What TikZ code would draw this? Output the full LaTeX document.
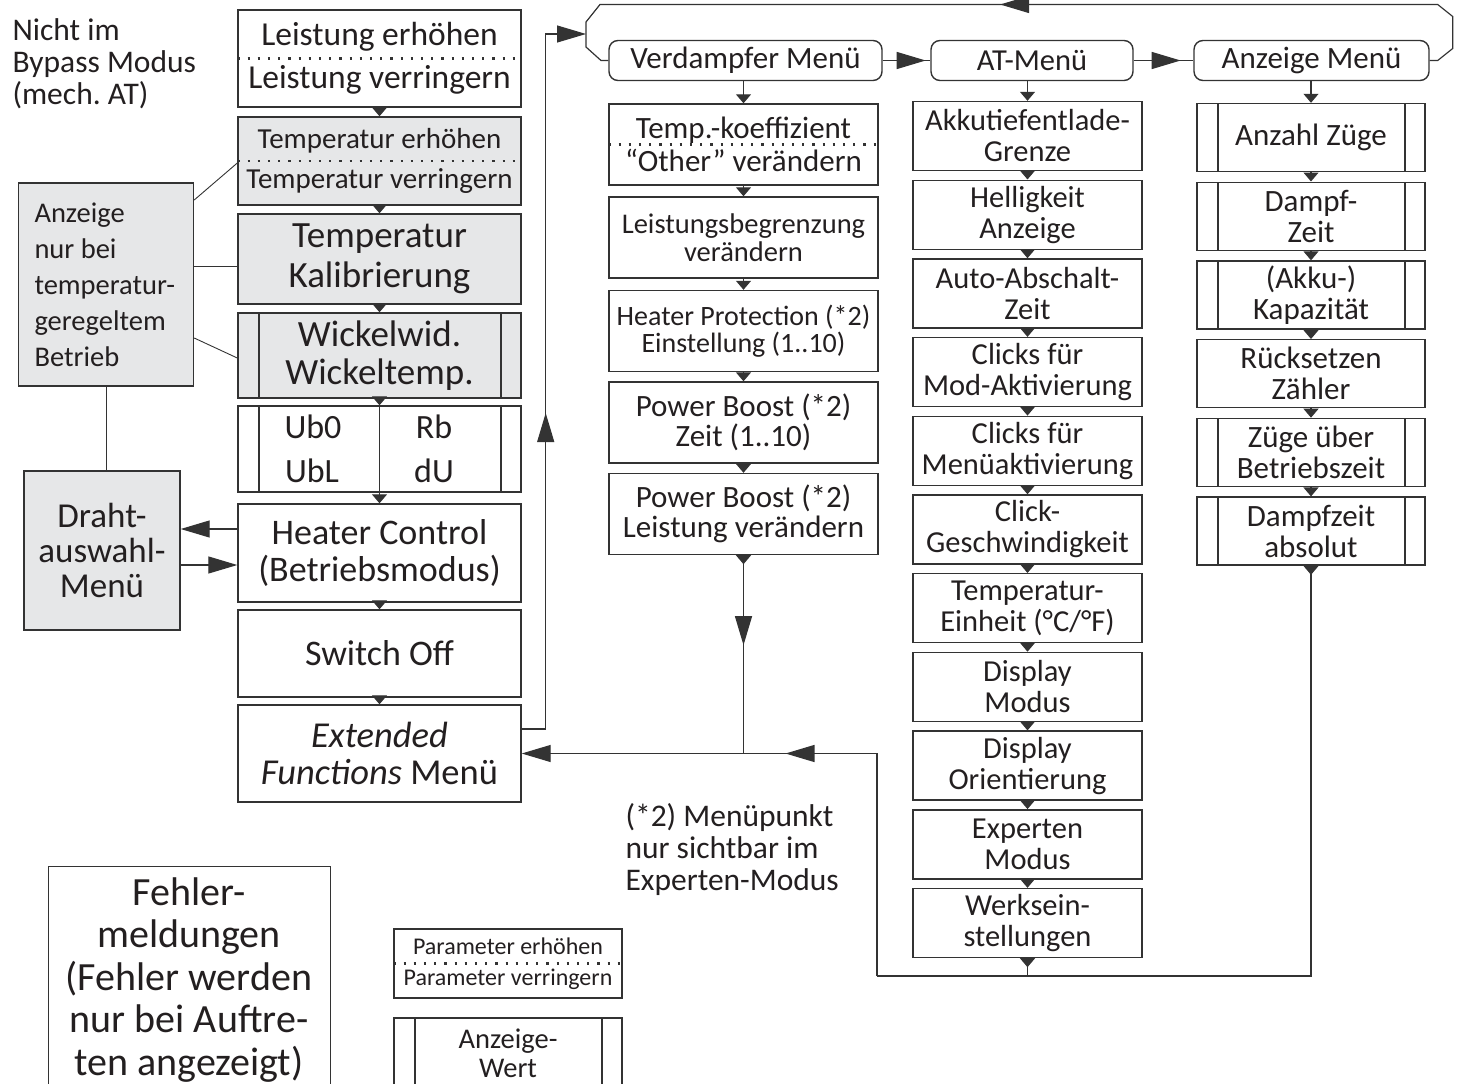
\documentclass[tikz,border=0pt]{standalone}
\usepackage{fontspec}
\setmainfont{Carlito}
\usetikzlibrary{arrows.meta,decorations.markings,calc}
\frenchspacing

\definecolor{boxline}{HTML}{333333}
\definecolor{boxgrey}{HTML}{E6E7E8}
\definecolor{txt}{HTML}{231F20}

\newcommand{\fsz}[2]{\fontsize{#1}{#2}\selectfont}

\tikzset{
  smalltri/.tip={Triangle[length=9pt,width=15pt]},
  bigtri/.tip={Triangle[length=29pt,width=17pt]},
  item/.style={draw=boxline, line width=1.4pt, inner sep=0pt, align=center, text=txt},
  greyitem/.style={item, fill=boxgrey},
  menu/.style={item, rounded corners=9pt, minimum height=40pt},
  dispval/.style={path picture={
      \draw[boxline, line width=1.2pt]
        ([xshift=21pt]path picture bounding box.north west) -- ([xshift=21pt]path picture bounding box.south west);
      \draw[boxline, line width=1.2pt]
        ([xshift=-20pt]path picture bounding box.north east) -- ([xshift=-20pt]path picture bounding box.south east);}},
  dotsplit/.style={boxline, line width=2.2pt, dash pattern=on 2.2pt off 8pt},
  link/.style={boxline, line width=1.2pt},
  note/.style={boxline, line width=0.9pt},
  flow/.style={link, -{smalltri}},
  tipat/.style 2 args={postaction={decorate, decoration={markings, mark=at position #1 with {\arrow{#2}}}}},
  maincol/.style={minimum width=283pt},
  vcol/.style={minimum width=269pt, minimum height=81pt},
  acol/.style={item, minimum width=229pt, minimum height=69pt, font=\fsz{30.5}{31}},
  zcol/.style={item, minimum width=228pt, minimum height=68pt, font=\fsz{31}{31}},
}

\begin{document}
\begin{tikzpicture}[x=1pt,y=-1pt]
  \useasboundingbox (0,0) rectangle (1462,1084);

  % ---- Hinweise links ------------------------------------
  \node[anchor=north west, align=flush left, text=txt, font=\fsz{31.5}{32}] (bypass) at (9,15)
    {Nicht im\\Bypass Modus\\(mech. AT)};
  \node[greyitem, minimum width=175pt, minimum height=203pt, text width=143pt,
        align=flush left, font=\fsz{28.5}{36}] (hint) at (106,284.5)
    {Anzeige\\nur bei\\temperatur-\\geregeltem\\Betrieb};
  \node[greyitem, minimum width=156pt, minimum height=159pt, font=\fsz{35}{35}] (draht) at (102,550.5)
    {Draht-\\auswahl-\\Menü};

  % ---- Hauptmenue ----------------------------------------
  \node[item, maincol, minimum height=97pt, font=\fsz{33.5}{43}] (lei) at (379.5,58.5)
    {Leistung erhöhen\\Leistung verringern};
  \draw[dotsplit] (lei.west) -- (lei.east);
  \node[greyitem, maincol, minimum height=88pt, font=\fsz{29}{40}] (tup) at (379.5,161)
    {Temperatur erhöhen\\Temperatur verringern};
  \draw[dotsplit] (tup.west) -- (tup.east);
  \node[greyitem, maincol, minimum height=90pt, font=\fsz{37}{40}] (tkal) at (379.5,259)
    {Temperatur\\Kalibrierung};
  \node[greyitem, dispval, maincol, minimum height=85pt, font=\fsz{37}{38}] (wick) at (379.5,355.5)
    {Wickelwid.\\Wickeltemp.};
  % Ub-Werte
  \node[item, dispval, maincol, minimum height=86pt] (ubox) at (379.5,449) {};
  \draw[link] (ubox.north) -- (ubox.south);
  \node[text=txt, font=\fsz{34}{34}] (ubnull) at (313,427) {Ub0};
  \node[text=txt, font=\fsz{34}{34}] (ubl) at (312,471) {UbL};
  \node[text=txt, font=\fsz{34}{34}] (rb) at (434,427) {Rb};
  \node[text=txt, font=\fsz{34}{34}] (du) at (434,471) {dU};
  \node[item, maincol, minimum height=98pt, font=\fsz{36}{37}] (heat) at (379.5,553)
    {Heater Control\\(Betriebsmodus)};
  \node[item, maincol, minimum height=87pt, font=\fsz{36}{37}] (soff) at (379.5,653.5)
    {Switch Off};
  \node[item, maincol, minimum height=97pt, font=\fsz{36.5}{37}] (ext) at (379.5,753.5)
    {\textit{Extended}\\\textit{Functions} Menü};

  \draw[flow] (lei) -- (tup);
  \draw[flow] (tup) -- (tkal);
  \draw[flow] (tkal) -- (wick);
  \draw[flow] (wick) -- (ubox);
  \draw[flow] (ubox) -- (heat);
  \draw[flow] (heat) -- (soff);
  \draw[flow] (soff) -- (ext);

  % Hinweislinien
  \draw[note] ([yshift=84.5pt]hint.east) -- ([yshift=-2pt]tup.west);
  \coordinate (hintk) at ([yshift=18.5pt]hint.east);
  \draw[note] (hintk) -- (hintk -| tkal.west);
  \draw[note] ([yshift=-53.5pt]hint.east) -- ([yshift=-2.5pt]wick.west);
  \draw[note] (hint.south) -- (hint.south |- draht.north);

  % Drahtauswahl
  \coordinate (hcout) at ([yshift=24pt]heat.west);
  \coordinate (dmout) at ([yshift=-14.5pt]draht.east);
  \draw[link, -{bigtri}] (hcout) -- (hcout -| draht.east);
  \draw[link, -{bigtri}] (dmout) -- (dmout -| heat.west);

  % ---- Menueleiste oben ----------------------------------
  \node[menu, minimum width=273pt, font=\fsz{31}{31}] (vdm) at (745.5,60.5) {Verdampfer Menü};
  \node[menu, minimum width=202pt, font=\fsz{30.5}{31}] (atm) at (1032,60.5) {AT-Menü};
  \node[menu, minimum width=235pt, font=\fsz{31}{31}] (anm) at (1311.5,60.5) {Anzeige Menü};
  \draw[link, tipat={43pt}{bigtri}] (vdm) -- (atm);
  \draw[link, tipat={47pt}{bigtri}] (atm) -- (anm);

  % Ruecksprung ueber die Klammer
  \coordinate (brk) at (586,34);
  \draw[link, tipat={516pt}{bigtri}] (anm.east) -- ++(8,0) -- ++(15,-12) -- ++(0,-32) -- ++(-15,-12)
    -- (600,4.5) -- (586,22) -- (586,47) -- (601,60.5) -- (vdm.west);
  \draw[link, -{bigtri}, tipat={340pt}{bigtri}] ([yshift=24.5pt]ext.east) -- ++(24,0) |- (brk);

  % ---- Verdampfer Menue ----------------------------------
  \node[item, vcol, font=\fsz{31}{33}] (tko) at (743.5,144.5)
    {Temp.-koeffizient\\“Other” verändern};
  \draw[dotsplit] (tko.west) -- (tko.east);
  \node[item, vcol, font=\fsz{28.5}{28}] (lbg) at (743.5,237.5)
    {Leistungsbegrenzung\\verändern};
  \node[item, vcol, font=\fsz{28}{27.5}] (hpr) at (743.5,331)
    {Heater Protection (*2)\\Einstellung (1..10)};
  \node[item, vcol, font=\fsz{31}{30}] (pbz) at (743.5,422.5)
    {Power Boost (*2)\\Zeit (1..10)};
  \node[item, vcol, font=\fsz{31}{30}] (pbl) at (743.5,514)
    {Power Boost (*2)\\Leistung verändern};

  \draw[flow] (vdm.south -| tko) -- (tko);
  \draw[flow] (tko) -- (lbg);
  \draw[flow] (lbg) -- (hpr);
  \draw[flow] (hpr) -- (pbz);
  \draw[flow] (pbz) -- (pbl);

  % ---- AT-Menue ------------------------------------------
  \node[acol] (akku) at (1027.5,136)   {Akkutiefentlade-\\Grenze};
  \node[acol] (hell) at (1027.5,214.7) {Helligkeit\\Anzeige};
  \node[acol] (aabs) at (1027.5,293.4) {Auto-Abschalt-\\Zeit};
  \node[acol] (cmod) at (1027.5,372.1) {Clicks für\\Mod-Aktivierung};
  \node[acol] (cmen) at (1027.5,450.8) {Clicks für\\Menüaktivierung};
  \node[acol] (cges) at (1027.5,529.5) {Click-\\Geschwindigkeit};
  \node[acol] (tein) at (1027.5,608.2) {Temperatur-\\Einheit (°C/°F)};
  \node[acol] (dmod) at (1027.5,686.9) {Display\\Modus};
  \node[acol] (dori) at (1027.5,765.6) {Display\\Orientierung};
  \node[acol] (expm) at (1027.5,844.3) {Experten\\Modus};
  \node[acol] (werk) at (1027.5,923)   {Werksein-\\stellungen};

  \draw[flow] (atm.south -| akku) -- (akku);
  \draw[flow] (akku) -- (hell);
  \draw[flow] (hell) -- (aabs);
  \draw[flow] (aabs) -- (cmod);
  \draw[flow] (cmod) -- (cmen);
  \draw[flow] (cmen) -- (cges);
  \draw[flow] (cges) -- (tein);
  \draw[flow] (tein) -- (dmod);
  \draw[flow] (dmod) -- (dori);
  \draw[flow] (dori) -- (expm);
  \draw[flow] (expm) -- (werk);

  % ---- Anzeige Menue -------------------------------------
  \node[zcol, dispval] (anz)  at (1311,137.5) {Anzahl Züge};
  \node[zcol, dispval] (dmpf) at (1311,216.2) {Dampf-\\Zeit};
  \node[zcol, dispval] (akap) at (1311,295)   {(Akku-)\\Kapazität};
  \node[zcol]          (rues) at (1311,373.7) {Rücksetzen\\Zähler};
  \node[zcol, dispval] (zueg) at (1311,452.4) {Züge über\\Betriebszeit};
  \node[zcol, dispval] (dzab) at (1311,531.1) {Dampfzeit\\absolut};

  \draw[flow] (anm.south -| anz) -- (anz);
  \draw[flow] (anz) -- (dmpf);
  \draw[flow] (dmpf) -- (akap);
  \draw[flow] (akap) -- (rues);
  \draw[flow] (rues) -- (zueg);
  \draw[flow] (zueg) -- (dzab);

  % ---- Rueckweg zum Extended Functions Menue -------------
  \coordinate (jb) at (877,976);
  \draw[link, tipat={9pt}{smalltri}] (dzab.south) -- (dzab.south |- jb) -- (jb);
  \draw[link, tipat={9pt}{smalltri}] (werk.south) -- (werk.south |- jb);
  \draw[link, -{bigtri}, tipat={314pt}{bigtri}] (jb) -- (jb |- ext.east) -- (ext.east);
  \draw[link, tipat={9pt}{smalltri}, tipat={90pt}{bigtri}] (pbl.south) -- (pbl.south |- ext.east);

  \node[anchor=north west, align=flush left, text=txt, font=\fsz{31.5}{32}] (expnote) at (622,800)
    {(*2) Menüpunkt\\nur sichtbar im\\Experten-Modus};

  % ---- Fehler und Legende --------------------------------
  \node[item, line width=1pt, minimum width=282pt, minimum height=228pt, font=\fsz{40}{42.5}] (err) at (189,980)
    {Fehler-\\meldungen\\(Fehler werden\\nur bei Auftre-\\ten angezeigt)};
  \node[item, minimum width=228pt, minimum height=69pt, font=\fsz{24}{31}] (lgsplit) at (508,963.5)
    {Parameter erhöhen\\Parameter verringern};
  \draw[dotsplit] (lgsplit.west) -- (lgsplit.east);
  \node[item, dispval, minimum width=228pt, minimum height=70pt, font=\fsz{28.5}{29}] (lgdisp) at (508,1053)
    {Anzeige-\\Wert};

\end{tikzpicture}
\end{document}
